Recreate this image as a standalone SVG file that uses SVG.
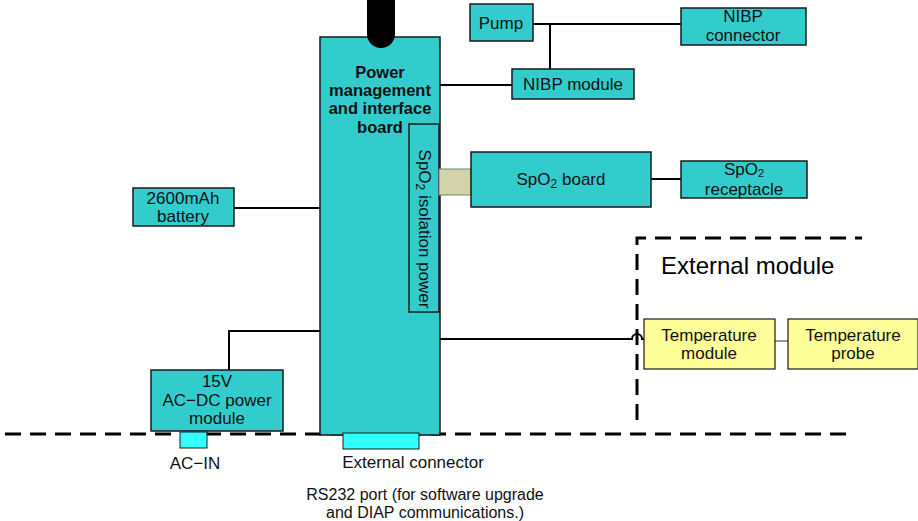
<svg xmlns="http://www.w3.org/2000/svg" width="918" height="521" viewBox="0 0 918 521">
<style>
.n{fill:#33cccc;stroke:#1a1a1a;stroke-width:1.5}
.y{fill:#ffff99;stroke:#1a1a1a;stroke-width:1.2}
.c{fill:#33ffff;stroke:#1a1a1a;stroke-width:1}
.t{font-family:"Liberation Sans",Arial,sans-serif;font-size:17px;fill:#111;text-anchor:middle}
.s{font-family:"Liberation Sans",Arial,sans-serif;font-size:17px;fill:#111;text-anchor:middle}
.w{fill:none;stroke:#000;stroke-width:2}
.d{fill:none;stroke:#000;stroke-width:3;stroke-dasharray:16 9}
</style>
<g id="boundary">
<line class="d" x1="5" y1="434" x2="852" y2="434"/>
</g>
<g id="external-module">
<path class="d" d="M637 420 V238 H862"/>
<text x="661" y="274" style="font-family:'Liberation Sans',Arial,sans-serif;font-size:24px;fill:#000">External module</text>
</g>
<g id="connectors">
<path class="w" d="M533 24 H681 M550 24 V69 M440 85 H512"/>
<path class="w" d="M651 179 H681"/>
<path class="w" d="M234 208 H320"/>
<path class="w" d="M229 370 V331 H320"/>
<path class="w" d="M440 339 H632 A5 5 0 0 1 642 339 H644"/>
<line x1="775" y1="341" x2="788" y2="341" stroke="#333" stroke-width="1"/>
</g>
<g id="power-board">
<rect class="n" x="320" y="37" width="120" height="398"/>
<path d="M367 0 V34 A14 14 0 0 0 395 34 V0 Z" fill="#000"/>
<text class="t" style="font-weight:bold;font-size:16.5px"><tspan x="380" y="78">Power</tspan><tspan x="380" y="96">management</tspan><tspan x="380" y="114">and interface</tspan><tspan x="380" y="133">board</tspan></text>
</g>
<g id="spo2-isolation">
<rect class="n" x="409" y="124" width="30" height="188"/>
<text class="t" transform="translate(419 229) rotate(90)">SpO<tspan font-size="12" dy="3">2</tspan><tspan dy="-3"> isolation power</tspan></text>
</g>
<g id="spo2-link">
<rect x="439" y="169" width="32" height="26" fill="#d4d2aa" stroke="#6a8a6a" stroke-width="1"/>
</g>
<g id="spo2-board">
<rect class="n" x="471" y="152" width="180" height="55"/>
<text class="t" x="561" y="185">SpO<tspan font-size="12" dy="3">2</tspan><tspan dy="-3"> board</tspan></text>
</g>
<g id="spo2-receptacle">
<rect class="n" x="681" y="161" width="126" height="37"/>
<text class="t" x="744" y="175">SpO<tspan font-size="11" dy="2">2</tspan></text>
<text class="t" x="744" y="195">receptacle</text>
</g>
<g id="pump">
<rect class="n" x="470" y="4" width="63" height="37"/>
<text class="t" x="501" y="29">Pump</text>
</g>
<g id="nibp-connector">
<rect class="n" x="681" y="8" width="125" height="37"/>
<text class="t"><tspan x="743" y="22">NIBP</tspan><tspan x="743" y="41">connector</tspan></text>
</g>
<g id="nibp-module">
<rect class="n" x="512" y="69" width="122" height="30"/>
<text class="t" x="573" y="90">NIBP module</text>
</g>
<g id="battery">
<rect class="n" x="133" y="188" width="101" height="38"/>
<text class="t"><tspan x="183" y="204">2600mAh</tspan><tspan x="183" y="222">battery</tspan></text>
</g>
<g id="acdc">
<rect class="n" x="151" y="370" width="132" height="61"/>
<text class="t"><tspan x="217" y="387">15V</tspan><tspan x="217" y="406">AC−DC power</tspan><tspan x="217" y="424">module</tspan></text>
</g>
<g id="ac-in">
<rect class="c" x="180" y="432" width="27" height="16"/>
<text class="s" x="195" y="469">AC−IN</text>
</g>
<g id="external-connector">
<rect class="c" x="343" y="433" width="76" height="16"/>
<text class="s" x="413" y="468">External connector</text>
<text class="s" style="font-size:16px"><tspan x="425" y="500">RS232 port (for software upgrade</tspan><tspan x="425" y="518">and DIAP communications.)</tspan></text>
</g>
<g id="temp-module">
<rect class="y" x="644" y="319" width="131" height="50"/>
<text class="t"><tspan x="709" y="341">Temperature</tspan><tspan x="709" y="359">module</tspan></text>
</g>
<g id="temp-probe">
<rect class="y" x="788" y="319" width="130" height="50"/>
<text class="t"><tspan x="853" y="341">Temperature</tspan><tspan x="853" y="359">probe</tspan></text>
</g>
</svg>
